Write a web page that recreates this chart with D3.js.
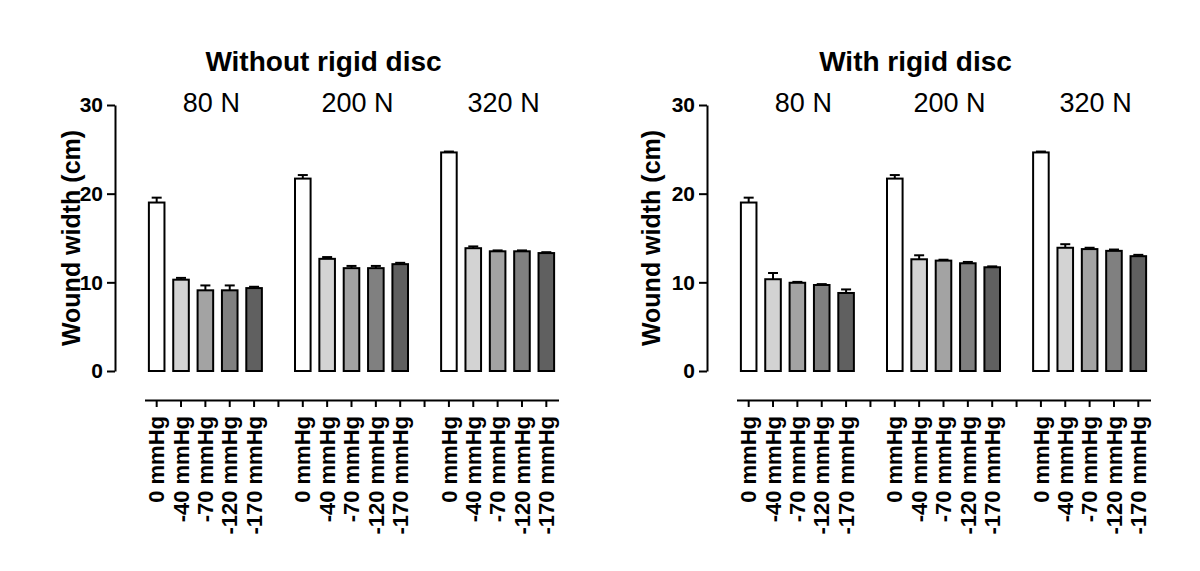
<!DOCTYPE html>
<html>
<head>
<meta charset="utf-8">
<script src="https://cdn.jsdelivr.net/npm/d3@7"></script>
<style>
  body { margin: 0; background: #fff; }
  text { font-family: Arial, "Liberation Sans", sans-serif; fill: #000; }
</style>
</head>
<body>
<div id="chart"></div>
<script>
// wound width by load and negative pressure
var forces = ["80 N", "200 N", "320 N"];
var pressures = ["0 mmHg", "-40 mmHg", "-70 mmHg", "-120 mmHg", "-170 mmHg"];
var yTicks = [0, 10, 20, 30];

// one row per force, one value per pressure
var withoutMean = [
  [19.0, 10.3, 9.1, 9.1, 9.35],
  [21.7, 12.65, 11.6, 11.6, 12.05],
  [24.65, 13.85, 13.5, 13.5, 13.3]
];
var withoutErr = [
  [0.55, 0.2, 0.55, 0.55, 0.15],
  [0.4, 0.2, 0.25, 0.25, 0.15],
  [0.1, 0.2, 0.1, 0.1, 0.1]
];
var withMean = [
  [19.0, 10.35, 9.95, 9.7, 8.8],
  [21.7, 12.6, 12.45, 12.15, 11.7],
  [24.65, 13.9, 13.75, 13.55, 12.95]
];
var withErr = [
  [0.55, 0.7, 0.1, 0.1, 0.4],
  [0.4, 0.45, 0.1, 0.15, 0.1],
  [0.1, 0.4, 0.15, 0.15, 0.15]
];

var barColors = ["#ffffff", "#d3d3d3", "#a3a3a3", "#808080", "#606060"];

var width = 1200, height = 571;
var svg = d3.select("#chart").append("svg")
    .attr("width", width)
    .attr("height", height);

// 17 slots: 5 bars, a gap, 5 bars, a gap, 5 bars
var slots = [];
forces.forEach(function(f, gi) {
  pressures.forEach(function(p) { slots.push(f + "|" + p); });
  if (gi < forces.length - 1) slots.push("gap" + gi);
});

var y = d3.scaleLinear().domain([0, 30]).range([371, 105]);

var panels = [
  {title: "Without rigid disc", axisX: 115, labelX: 80, mean: withoutMean, err: withoutErr},
  {title: "With rigid disc", axisX: 707, labelX: 660, mean: withMean, err: withErr}
];

panels.forEach(function(pn) {
  var g = svg.append("g");
  var x0 = pn.axisX + 29.5;
  var x = d3.scaleBand().domain(slots)
      .range([x0, x0 + 414])
      .paddingInner(0.36)
      .paddingOuter(0.18);

  var bars = [];
  forces.forEach(function(f, gi) {
    pressures.forEach(function(p, pi) {
      bars.push({key: f + "|" + p, v: pn.mean[gi][pi], e: pn.err[gi][pi], c: barColors[pi]});
    });
  });

  // title + force labels
  g.append("text")
    .attr("x", (x0 + x0 + 414) / 2 - 28)
    .attr("y", 71)
    .attr("text-anchor", "middle")
    .style("font-size", "28px")
    .style("font-weight", "bold")
    .text(pn.title);

  g.selectAll(".force")
    .data(forces)
  .enter().append("text")
    .attr("class", "force")
    .attr("x", function(f) { return x(f + "|" + pressures[2]) + x.bandwidth() / 2 + 6; })
    .attr("y", 112)
    .attr("text-anchor", "middle")
    .style("font-size", "27px")
    .text(function(f) { return f; });

  // error bars (upper only)
  var eb = g.selectAll(".err")
    .data(bars)
  .enter().append("g")
    .attr("class", "err")
    .attr("stroke", "#000")
    .attr("stroke-width", 2);
  eb.append("line")
    .attr("x1", function(d) { return x(d.key) + x.bandwidth() / 2; })
    .attr("x2", function(d) { return x(d.key) + x.bandwidth() / 2; })
    .attr("y1", function(d) { return y(d.v); })
    .attr("y2", function(d) { return y(d.v + d.e); });
  eb.append("line")
    .attr("x1", function(d) { return x(d.key) + x.bandwidth() / 2 - 5; })
    .attr("x2", function(d) { return x(d.key) + x.bandwidth() / 2 + 5; })
    .attr("y1", function(d) { return y(d.v + d.e); })
    .attr("y2", function(d) { return y(d.v + d.e); });

  g.selectAll(".bar")
    .data(bars)
  .enter().append("rect")
    .attr("class", "bar")
    .attr("x", function(d) { return x(d.key); })
    .attr("y", function(d) { return y(d.v); })
    .attr("width", x.bandwidth())
    .attr("height", function(d) { return y(0) - y(d.v); })
    .attr("fill", function(d) { return d.c; })
    .attr("stroke", "#000")
    .attr("stroke-width", 2);

  // y axis
  var ya = g.append("g")
    .attr("transform", "translate(" + pn.axisX + ",0)")
    .call(d3.axisLeft(y).tickValues(yTicks).tickSize(8).tickSizeOuter(0).tickPadding(4));
  ya.select(".domain").attr("stroke-width", 2);
  ya.selectAll(".tick line").attr("stroke-width", 2);
  ya.selectAll(".tick text")
    .style("font-size", "21px")
    .style("font-weight", "bold")
    .style("font-family", "Arial, 'Liberation Sans', sans-serif");

  g.append("text")
    .attr("transform", "translate(" + pn.labelX + "," + 238 + ") rotate(-90)")
    .attr("text-anchor", "middle")
    .style("font-size", "25px")
    .style("font-weight", "bold")
    .text("Wound width (cm)");

  // x axis
  var xa = g.append("g")
    .attr("transform", "translate(0,400)")
    .call(d3.axisBottom(x).tickSize(7).tickSizeOuter(0)
      .tickFormat(function(k) { return k.indexOf("gap") === 0 ? "" : k.split("|")[1]; }));
  xa.select(".domain").attr("stroke-width", 2);
  xa.selectAll(".tick line").attr("stroke-width", 2);
  xa.selectAll(".tick text")
    .attr("transform", "rotate(-90)")
    .attr("x", -16)
    .attr("y", 0)
    .attr("dy", "0.35em")
    .attr("text-anchor", "end")
    .style("font-size", "22px")
    .style("font-weight", "bold")
    .style("font-family", "Arial, 'Liberation Sans', sans-serif");
});
</script>
</body>
</html>
